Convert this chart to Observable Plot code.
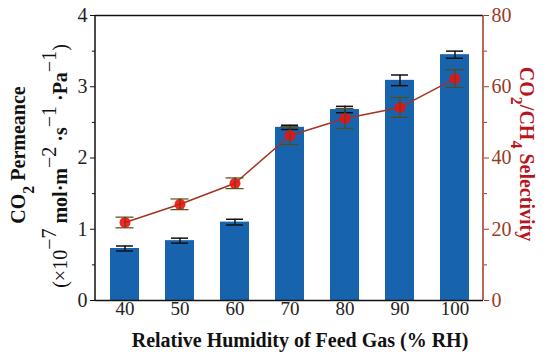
<!DOCTYPE html>
<html><head><meta charset="utf-8">
<script src="https://cdn.jsdelivr.net/npm/d3@7"></script>
<script src="https://cdn.jsdelivr.net/npm/@observablehq/plot@0.6"></script>
<style>body{margin:0;background:#fff}</style>
</head><body><div id="chart"></div>
<script>
const rh = ["40","50","60","70","80","90","100"];
const perm = [0.73,0.84,1.10,2.43,2.68,3.09,3.45];
const permErr = [0.035,0.035,0.04,0.03,0.045,0.075,0.05];
const sel = [21.9,27.0,32.9,46.3,51.1,54.2,62.3];
const selErr = [1.5,1.5,1.5,2.5,2.8,2.8,2.5];
const leftTicks = [0,1,2,3,4];
const leftMinor = [0.5,1.5,2.5,3.5];
const rightTicks = [0,20,40,60,80];
const rightMinor = [10,30,50,70];
const selMax = 80, permMax = 4, k = selMax/permMax;

const data = rh.map((r,i)=>({rh:r, perm:perm[i], pe:permErr[i], sel:sel[i]/k, se:selErr[i]/k}));
const brown = "#a0341e";
const serif = "Liberation Serif";

const plot = Plot.plot({
  width:550, height:359,
  marginLeft:95, marginRight:67, marginTop:15, marginBottom:59,
  style:{fontFamily:serif, fontSize:"20px", color:"#222", background:"#fff"},
  x:{domain:rh, paddingInner:0.476, paddingOuter:0.238, axis:null, label:null},
  y:{domain:[0,permMax], axis:null, label:null},
  marks:[
    Plot.barY(data,{x:"rh", y:"perm", fill:"#1863ad"}),
    Plot.ruleX(data,{x:"rh", y1:d=>d.perm-d.pe, y2:d=>d.perm+d.pe, stroke:"#111", strokeWidth:1.5}),
    Plot.tickY(data,{x:"rh", y:d=>d.perm-d.pe, stroke:"#111", strokeWidth:1.5, insetLeft:23, insetRight:23}),
    Plot.tickY(data,{x:"rh", y:d=>d.perm+d.pe, stroke:"#111", strokeWidth:1.5, insetLeft:23, insetRight:23}),
    Plot.line(data,{x:"rh", y:"sel", stroke:brown, strokeWidth:1.5}),
    Plot.dot(data,{x:"rh", y:"sel", r:5.5, fill:"#f01010", fillOpacity:0.9, stroke:"none"}),
    Plot.ruleX(data,{x:"rh", y1:d=>d.sel-d.se, y2:d=>d.sel+d.se, stroke:"#5a4a10", strokeWidth:1.2}),
    Plot.tickY(data,{x:"rh", y:d=>d.sel-d.se, stroke:"#5a4a10", strokeWidth:1.2, insetLeft:23.5, insetRight:23.5}),
    Plot.tickY(data,{x:"rh", y:d=>d.sel+d.se, stroke:"#5a4a10", strokeWidth:1.2, insetLeft:23.5, insetRight:23.5}),
    Plot.axisY({ticks:leftTicks, tickSize:5, tickPadding:3, tickFormat:d=>d, fontSize:20, stroke:"#111", fill:"#222", label:null}),
    Plot.axisY({ticks:leftMinor, tickSize:3, tickFormat:()=>"", stroke:"#111", label:null}),
    Plot.axisY({anchor:"right", ticks:rightTicks.map(v=>v/k), tickSize:5, tickPadding:3, tickFormat:d=>Math.round(d*k), fontSize:20, stroke:brown, fill:"#9a3a1e", label:null}),
    Plot.axisY({anchor:"right", ticks:rightMinor.map(v=>v/k), tickSize:3, tickFormat:()=>"", stroke:brown, label:null}),
    Plot.axisX({tickSize:0, tickPadding:1, fontSize:19, fill:"#222", label:null}),
    Plot.ruleY([0],{stroke:"#111", strokeWidth:1.5}),
    Plot.ruleY([permMax],{stroke:"#111", strokeWidth:1.5}),
  ]
});
document.getElementById("chart").appendChild(plot);

const svg = d3.select(plot);
svg.append("line").attr("x1",95).attr("x2",95).attr("y1",15).attr("y2",300).attr("stroke","#111").attr("stroke-width",1.5);
svg.append("line").attr("x1",483).attr("x2",483).attr("y1",15).attr("y2",300).attr("stroke",brown).attr("stroke-width",1.5);

function addRich(g, parts){
  parts.forEach(p=>{
    const t = g.append("tspan").text(p.t);
    if(p.bold===false) t.attr("font-weight","normal");
    if(p.sub) t.attr("baseline-shift","sub").attr("font-size","0.8em");
    if(p.sup) t.attr("baseline-shift","super").attr("font-size","1em");
  });
}
const l1 = svg.append("text").attr("transform","translate(25,155) rotate(-90)")
  .attr("text-anchor","middle").attr("font-weight","bold").attr("font-size",20).attr("fill","#111");
addRich(l1,[{t:"CO"},{t:"2",sub:true},{t:" Permeance"}]);
const l2 = svg.append("text").attr("transform","translate(67,166) rotate(-90)")
  .attr("text-anchor","middle").attr("font-weight","bold").attr("font-size",20).attr("fill","#111");
addRich(l2,[{t:"(×10",bold:false},{t:"−7",sup:true,bold:false},{t:" mol·m"},{t:"−2",sup:true,bold:false},{t:" ·s"},{t:"−1",sup:true,bold:false},{t:" ·Pa"},{t:"−1",sup:true,bold:false},{t:")",bold:false}]);
const r1 = svg.append("text").attr("transform","translate(520,154) rotate(90)")
  .attr("text-anchor","middle").attr("font-weight","bold").attr("font-size",20).attr("fill","#b8141c");
addRich(r1,[{t:"CO"},{t:"2",sub:true},{t:"/CH"},{t:"4",sub:true},{t:" Selectivity"}]);
svg.append("text").attr("x",300).attr("y",347).attr("text-anchor","middle")
  .attr("font-weight","bold").attr("font-size",20).attr("fill","#111")
  .text("Relative Humidity of Feed Gas (% RH)");
svg.selectAll("text").style("font-family", "'Liberation Serif', serif");
svg.selectAll("g").attr("font-family", null);
</script></body></html>
